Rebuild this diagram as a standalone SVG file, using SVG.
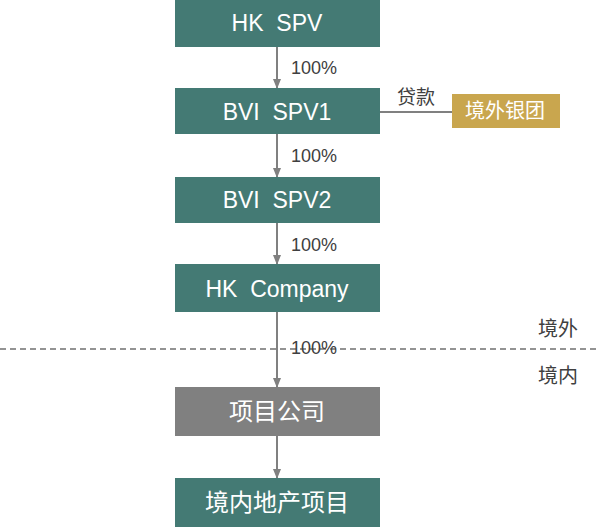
<svg xmlns="http://www.w3.org/2000/svg" width="596" height="532" viewBox="0 0 596 532">
<defs>
<marker id="arr" markerWidth="10" markerHeight="8" refX="9" refY="4" orient="auto" markerUnits="userSpaceOnUse">
<path d="M0,0 L10,4 L0,8 Z" fill="#808080"/>
</marker>
</defs>
<style>
.n{fill:#447A74}
.g{fill:#808080}
.y{fill:#C9A64E}
.t{font-family:"Liberation Sans","Noto Sans CJK SC",sans-serif;font-size:23px;fill:#FFFFFF;text-anchor:middle;dominant-baseline:central;white-space:pre}
.z{font-size:24px}
.l{font-family:"Liberation Sans","Noto Sans CJK SC",sans-serif;font-size:18px;fill:#404040;dominant-baseline:central}
.k{font-size:19px}
.c{stroke:#808080;stroke-width:2;fill:none}
</style>
<rect width="596" height="532" fill="#FFFFFF"/>
<g id="connectors">
<line class="c" x1="277" y1="47" x2="277" y2="88" marker-end="url(#arr)"/>
<line class="c" x1="277" y1="134" x2="277" y2="177" marker-end="url(#arr)"/>
<line class="c" x1="277" y1="223" x2="277" y2="264" marker-end="url(#arr)"/>
<line class="c" x1="277" y1="312" x2="277" y2="387" marker-end="url(#arr)"/>
<line class="c" x1="277" y1="436" x2="277" y2="478" marker-end="url(#arr)"/>
<line class="c" x1="380" y1="112" x2="452" y2="112"/>
<line x1="0" y1="349" x2="596" y2="349" stroke="#707070" stroke-width="1.5" stroke-dasharray="6,4"/>
<text class="l" x="291" y="68">100%</text>
<text class="l" x="291" y="156">100%</text>
<text class="l" x="291" y="245">100%</text>
<text class="l" x="291" y="348">100%</text>
<text class="l k" x="397" y="97">贷款</text>
<text class="l" x="538" y="329" style="font-size:20px">境外</text>
<text class="l" x="538" y="376" style="font-size:20px">境内</text>
</g>
<g id="hkspv"><rect class="n" x="175" y="0" width="205" height="47"/><text class="t" x="277" y="23" xml:space="preserve">HK  SPV</text></g>
<g id="bvispv1"><rect class="n" x="175" y="88" width="205" height="46"/><text class="t" x="277" y="112" xml:space="preserve">BVI  SPV1</text></g>
<g id="bank"><rect class="y" x="452" y="94" width="108" height="34"/><text class="t" x="505" y="111" style="font-size:20px">境外银团</text></g>
<g id="bvispv2"><rect class="n" x="175" y="177" width="205" height="46"/><text class="t" x="277" y="200" xml:space="preserve">BVI  SPV2</text></g>
<g id="hkcompany"><rect class="n" x="175" y="264" width="205" height="48"/><text class="t" x="277" y="289" xml:space="preserve">HK  Company</text></g>
<g id="project"><rect class="g" x="175" y="387" width="205" height="49"/><text class="t z" x="277" y="411">项目公司</text></g>
<g id="domestic"><rect class="n" x="175" y="478" width="205" height="49"/><text class="t z" x="277" y="502">境内地产项目</text></g>
</svg>
